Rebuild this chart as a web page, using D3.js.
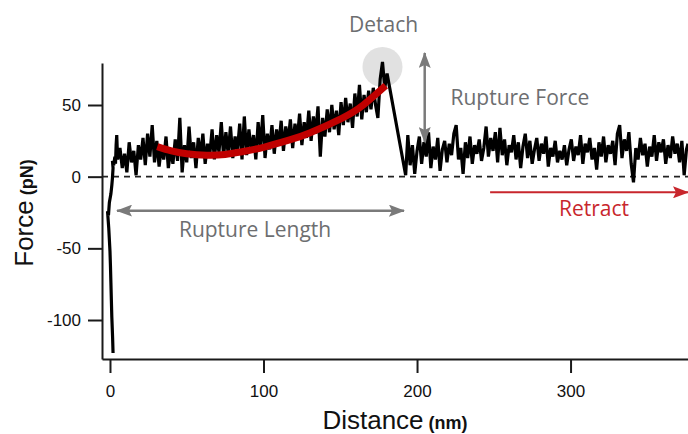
<!DOCTYPE html>
<html>
<head>
<meta charset="utf-8">
<script src="https://cdn.jsdelivr.net/npm/d3@7"></script>
<style>
  html, body { margin: 0; padding: 0; background: #fff; }
  svg { display: block; }
</style>
</head>
<body>
<svg id="chart" width="688" height="434"></svg>
<script>
// contact part of the retract curve (distance nm, force pN)
const contactTrace = [
  [2.0,-123],[1.7,-112],[1.2,-98],[0.9,-86],[0.6,-74],[0.3,-62],[0.0,-52],[-0.4,-44],
  [-0.8,-36],[-1.2,-30],[-1.6,-24],[-1.0,-27],[-0.4,-18],[0.6,-12],[1.2,-6],[1.6,-1],
  [2.0,6],[1.6,11],[2.4,8],[3.2,14],[3.6,9],[4.0,22],[4.4,29],[4.8,17]
];

// stretched molecule, before detach
const attachedTrace = [
  [5,12],[6.5,20],[8,6],[9.5,16],[11,3],[12.5,24],[14,10],[15.5,18],[17,1],[18.5,22],
  [20,12],[21.5,27],[23,8],[24.5,30],[26,14],[27.5,36],[29,10],[30.5,25],[32,7],[33.5,21],
  [35,12],[36.5,28],[38,6],[39.5,19],[41,9],[42.5,26],[44,11],[45.5,41],[47,3],[48.5,22],
  [50,10],[51.5,35],[53,13],[54.5,24],[56,6],[57.5,27],[59,14],[60.5,30],[62,9],[63.5,23],
  [65,15],[66.5,33],[68,12],[69.5,29],[71,17],[72.5,38],[74,14],[75.5,31],[77,16],[78.5,35],
  [80,13],[81.5,28],[83,18],[84.5,37],[86,12],[87.5,42],[89,15],[90.5,33],[92,18],[93.5,29],
  [95,12],[96.5,38],[98,20],[99.5,43],[101,13],[102.5,30],[104,19],[105.5,36],[107,16],[108.5,33],
  [110,22],[111.5,39],[113,18],[114.5,35],[116,24],[117.5,40],[119,20],[120.5,37],[122,26],[123.5,44],
  [125,22],[126.5,38],[128,27],[129.5,46],[131,25],[132.5,42],[134,30],[135.5,49],[137,14],[138.5,41],
  [140,28],[141.5,47],[143,31],[144.5,50],[146,33],[147.5,46],[149,29],[150.5,52],[152,36],[153.5,55],
  [155,38],[156.5,51],[158,34],[159.5,58],[161,42],[162.5,64],[164,40],[165.5,57],[167,45],[168.5,60],
  [170,47],[171.5,62],[173,50],[174.5,41],[176,68],[177.5,80],[179,62],[180.5,72]
];

// rupture drop
const dropTrace = [[181.5,66],[192.6,1]];

// free cantilever after detach
const detachedTrace = [
  [194,29],[195.5,8],[197,22],[198.5,2],[200,18],[201.5,28],[203,9],[204.5,24],[206,14],[207.5,31],
  [209,6],[210.5,21],[212,12],[213.5,27],[215,4],[216.5,19],[218,25],[219.5,10],[221,23],[222.5,15],
  [224,30],[225.5,36],[227,12],[228.5,20],[230,2],[231.5,24],[233,13],[234.5,28],[236,9],[237.5,22],
  [239,16],[240.5,26],[242,11],[243.5,20],[245,35],[246.5,14],[248,27],[249.5,18],[251,31],[252.5,10],
  [254,34],[255.5,15],[257,26],[258.5,8],[260,22],[261.5,17],[263,29],[264.5,12],[266,24],[267.5,6],
  [269,21],[270.5,30],[272,13],[273.5,25],[275,9],[276.5,19],[278,27],[279.5,11],[281,23],[282.5,16],
  [284,28],[285.5,7],[287,20],[288.5,14],[290,25],[291.5,10],[293,18],[294.5,12],[296,22],[297.5,8],
  [299,19],[300.5,26],[302,11],[303.5,21],[305,15],[306.5,29],[308,9],[309.5,23],[311,17],[312.5,27],
  [314,12],[315.5,20],[317,5],[318.5,24],[320,14],[321.5,28],[323,10],[324.5,22],[326,16],[327.5,25],
  [329,8],[330.5,30],[332,36],[333.5,13],[335,26],[336.5,18],[338,31],[339.5,9],[341,-4],[342.5,20],
  [344,12],[345.5,27],[347,15],[348.5,23],[350,7],[351.5,21],[353,14],[354.5,29],[356,11],[357.5,24],
  [359,17],[360.5,26],[362,9],[363.5,22],[365,13],[366.5,28],[368,16],[369.5,23],[371,10],[372.5,25],
  [374,1],[375.5,19],[376.5,23]
];

// polymer fit (red)
const fitCurve = [
  [30.8,21],[40,18],[50,16],[63,15],[75,15.5],[86,17.4],[100,20.5],[117,25.6],
  [130,30.5],[151,40.7],[165,50],[179.6,63.5]
];

const xTicks = [0, 100, 200, 300];
const yTicks = [-100, -50, 0, 50];
const xDomain = [-5.2, 376.5];
const yDomain = [-127.2, 79.3];

// annotations in data units
const detachPoint = [177.5, 76.5];
const ruptureLength = { x1: 4.6, x2: 191.5, y: -23.7 };
const ruptureForce = { x: 205, y1: 86.3, y2: 24.2 };
const retractArrow = { x1: 247.6, x2: 376.5, y: -10.9 };
const labels = [
  { text: "Detach",         x: 178.2, y: 101,   color: "#6d6e70" },
  { text: "Rupture Force",  x: 267,   y: 50,    color: "#6d6e70" },
  { text: "Rupture Length", x: 94.5,  y: -42,   color: "#6d6e70" },
  { text: "Retract",        x: 315.3, y: -27.4, color: "#c8262c" }
];

const svg = d3.select("#chart");
const W = 688, H = 434;
const margin = { top: 63, right: 0, bottom: 75, left: 102 };

const x = d3.scaleLinear().domain(xDomain).range([margin.left, W - margin.right]);
const y = d3.scaleLinear().domain(yDomain).range([H - margin.bottom, margin.top]);

const tickFont = "'Liberation Sans', Arial, Helvetica, sans-serif";
const noteFont = "'Open Sans', 'Noto Sans', sans-serif";

// zero line
svg.append("line")
  .attr("x1", x(xDomain[0])).attr("x2", x(xDomain[1]))
  .attr("y1", y(0)).attr("y2", y(0))
  .attr("stroke", "#222").attr("stroke-width", 1.6)
  .attr("stroke-dasharray", "6,5");

// detach marker
svg.append("circle")
  .attr("cx", x(detachPoint[0])).attr("cy", y(detachPoint[1]))
  .attr("r", 20)
  .attr("fill", "#d9d9d9").attr("opacity", 0.8);

// force trace
const trace = contactTrace.concat(attachedTrace, dropTrace, detachedTrace);
const line = d3.line().x(d => x(d[0])).y(d => y(d[1]));

svg.append("path")
  .datum(trace)
  .attr("d", line)
  .attr("fill", "none")
  .attr("stroke", "#000")
  .attr("stroke-width", 3.2)
  .attr("stroke-linejoin", "miter")
  .attr("stroke-miterlimit", 2);

// fit
svg.append("path")
  .datum(fitCurve)
  .attr("d", d3.line().x(d => x(d[0])).y(d => y(d[1])).curve(d3.curveNatural))
  .attr("fill", "none")
  .attr("stroke", "#c00000")
  .attr("stroke-width", 7);

// axes
const xAxis = svg.append("g")
  .attr("transform", `translate(0,${H - margin.bottom})`)
  .call(d3.axisBottom(x).tickValues(xTicks).tickFormat(d => String(d))
    .tickSize(14).tickSizeOuter(0).tickPadding(12));

const yAxis = svg.append("g")
  .attr("transform", `translate(${margin.left},0)`)
  .call(d3.axisLeft(y).tickValues(yTicks).tickFormat(d => String(d))
    .tickSize(14).tickSizeOuter(0).tickPadding(7));

[xAxis, yAxis].forEach(a => {
  a.select(".domain").attr("stroke", "#1a1a1a").attr("stroke-width", 2);
  a.selectAll(".tick line").attr("stroke", "#1a1a1a").attr("stroke-width", 2);
  a.selectAll(".tick text")
    .attr("fill", "#111")
    .style("font-family", tickFont)
    .style("font-size", "17px");
});

// axis titles
const xTitle = svg.append("text")
  .attr("x", (margin.left + W) / 2).attr("y", 429)
  .attr("text-anchor", "middle")
  .style("font-family", tickFont)
  .attr("fill", "#111");
xTitle.append("tspan").text("Distance").style("font-size", "26px");
xTitle.append("tspan").text(" (nm)").style("font-size", "18px").style("font-weight", "bold");

const yTitle = svg.append("text")
  .attr("transform", "translate(33,213) rotate(-90)")
  .attr("text-anchor", "middle")
  .style("font-family", tickFont)
  .attr("fill", "#111");
yTitle.append("tspan").text("Force").style("font-size", "26px");
yTitle.append("tspan").text(" (pN)").style("font-size", "18px").style("font-weight", "bold");

// arrows
const defs = svg.append("defs");
function marker(id, color) {
  defs.append("marker")
    .attr("id", id)
    .attr("viewBox", "0 0 16 12")
    .attr("refX", 15).attr("refY", 6)
    .attr("markerUnits", "userSpaceOnUse")
    .attr("markerWidth", 16).attr("markerHeight", 12)
    .attr("orient", "auto-start-reverse")
    .append("path")
    .attr("d", "M0,0 L16,6 L0,12 L3,6 Z")
    .attr("fill", color);
}
marker("headGray", "#7a7a7a");
marker("headRed", "#c8262c");

svg.append("line")
  .attr("x1", x(ruptureLength.x1)).attr("x2", x(ruptureLength.x2))
  .attr("y1", y(ruptureLength.y)).attr("y2", y(ruptureLength.y))
  .attr("stroke", "#7a7a7a").attr("stroke-width", 2.5)
  .attr("marker-start", "url(#headGray)").attr("marker-end", "url(#headGray)");

svg.append("line")
  .attr("x1", x(ruptureForce.x)).attr("x2", x(ruptureForce.x))
  .attr("y1", y(ruptureForce.y1)).attr("y2", y(ruptureForce.y2))
  .attr("stroke", "#7a7a7a").attr("stroke-width", 2.5)
  .attr("marker-start", "url(#headGray)").attr("marker-end", "url(#headGray)");

svg.append("line")
  .attr("x1", x(retractArrow.x1)).attr("x2", x(retractArrow.x2))
  .attr("y1", y(retractArrow.y)).attr("y2", y(retractArrow.y))
  .attr("stroke", "#c8262c").attr("stroke-width", 2)
  .attr("marker-end", "url(#headRed)");

svg.selectAll("text.note")
  .data(labels)
  .enter()
  .append("text")
  .attr("class", "note")
  .attr("x", d => x(d.x)).attr("y", d => y(d.y))
  .attr("text-anchor", "middle")
  .attr("fill", d => d.color)
  .style("font-family", noteFont)
  .style("font-size", "21px")
  .text(d => d.text);
</script>
</body>
</html>
